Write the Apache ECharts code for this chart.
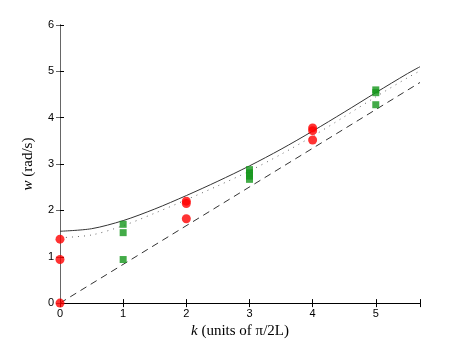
<!DOCTYPE html>
<html>
<head>
<meta charset="utf-8">
<script src="https://cdn.jsdelivr.net/npm/echarts@6/dist/echarts.min.js"></script>
<style>
  html, body { margin: 0; padding: 0; background: #fff; }
  #chart { width: 463px; height: 344px; }
</style>
</head>
<body>
<div id="chart"></div>
<script>
// measured points
const redK = [0, 0, 0, 2, 2, 2, 4, 4, 4]
const redW = [0, 0.94, 1.38, 2.2, 2.15, 1.82, 3.78, 3.72, 3.52]
const greenK = [1, 1, 1, 3, 3, 3, 3, 5, 5, 5]
const greenW = [1.70, 1.52, 0.94, 2.88, 2.81, 2.74, 2.67, 4.6, 4.54, 4.28]

// curves
const curveK = [0, 0.5, 1, 1.5, 2, 2.5, 3, 3.5, 4, 4.5, 5, 5.5, 5.7]
const solidW = [1.55, 1.605, 1.78, 2.03, 2.32, 2.63, 2.96, 3.32, 3.71, 4.12, 4.54, 4.95, 5.1]
const dottedW = [1.41, 1.47, 1.67, 1.94, 2.23, 2.53, 2.85, 3.21, 3.6, 4.02, 4.45, 4.86, 5.01]
const dashedK = [0, 5.7]
const dashedW = [0, 4.76]

const xTicks = [0, 1, 2, 3, 4, 5]

const pairs = (xs, ys) => xs.map((x, i) => [x, ys[i]])

const chart = echarts.init(document.getElementById('chart'))

const tickFont = { color: '#000', fontSize: 11, fontFamily: 'Liberation Sans' }
const nameStyle = {
  fontFamily: 'Liberation Serif', fontSize: 15, color: '#000',
  rich: { i: { fontFamily: 'Liberation Serif', fontSize: 15, fontStyle: 'italic', color: '#000' } }
}

chart.setOption({
  animation: false,
  grid: { left: 60, right: 43, top: 25, bottom: 39 },
  xAxis: [{
    type: 'value',
    min: 0, max: 5.7, interval: 1,
    position: 'bottom',
    name: '{i|k} (units of π/2L)',
    nameLocation: 'middle',
    nameGap: 20,
    nameTextStyle: nameStyle,
    axisLine: { lineStyle: { color: '#000', width: 1 } },
    axisTick: { inside: true, length: 4, lineStyle: { color: '#000' } },
    axisLabel: { ...tickFont, margin: 5, formatter: v => xTicks.includes(v) ? String(v) : '' },
    splitLine: { show: false }
  }, {
    type: 'value',
    min: 0, max: 5.7, interval: 1,
    position: 'top',
    axisLine: { lineStyle: { color: '#000', width: 1 } },
    axisTick: { inside: true, length: 4, lineStyle: { color: '#000' } },
    axisLabel: { show: false },
    splitLine: { show: false }
  }],
  yAxis: [{
    type: 'value',
    min: 0, max: 6, interval: 1,
    position: 'left',
    name: '{i|w} (rad/s)',
    nameLocation: 'middle',
    nameGap: 24,
    nameTextStyle: nameStyle,
    axisLine: { show: true, lineStyle: { color: '#000', width: 1 } },
    axisTick: { show: true, inside: true, length: 4, lineStyle: { color: '#000' } },
    axisLabel: { ...tickFont, margin: 6 },
    splitLine: { show: false }
  }, {
    type: 'value',
    min: 0, max: 6, interval: 1,
    position: 'right',
    axisLine: { show: true, lineStyle: { color: '#666', width: 1 } },
    axisTick: { show: true, inside: true, length: 4, lineStyle: { color: '#666' } },
    axisLabel: { show: false },
    splitLine: { show: false }
  }],
  series: [
    {
      type: 'line', data: pairs(curveK, solidW), smooth: 0.3, symbol: 'none',
      lineStyle: { color: '#333', width: 1 }, z: 2
    },
    {
      type: 'line', data: pairs(curveK, dottedW), smooth: 0.3, symbol: 'none',
      lineStyle: { color: '#666', width: 1, type: [1, 5] }, z: 2
    },
    {
      type: 'line', data: pairs(dashedK, dashedW), symbol: 'none',
      lineStyle: { color: '#333', width: 1, type: [7, 5] }, z: 2
    },
    {
      type: 'scatter', data: pairs(redK, redW), symbol: 'circle', symbolSize: 9,
      itemStyle: { color: '#ff0000' }, z: 5
    },
    {
      type: 'scatter', data: pairs(greenK, greenW), symbol: 'rect', symbolSize: 7,
      itemStyle: { color: '#14961a' }, z: 5
    }
  ]
})
</script>
</body>
</html>
